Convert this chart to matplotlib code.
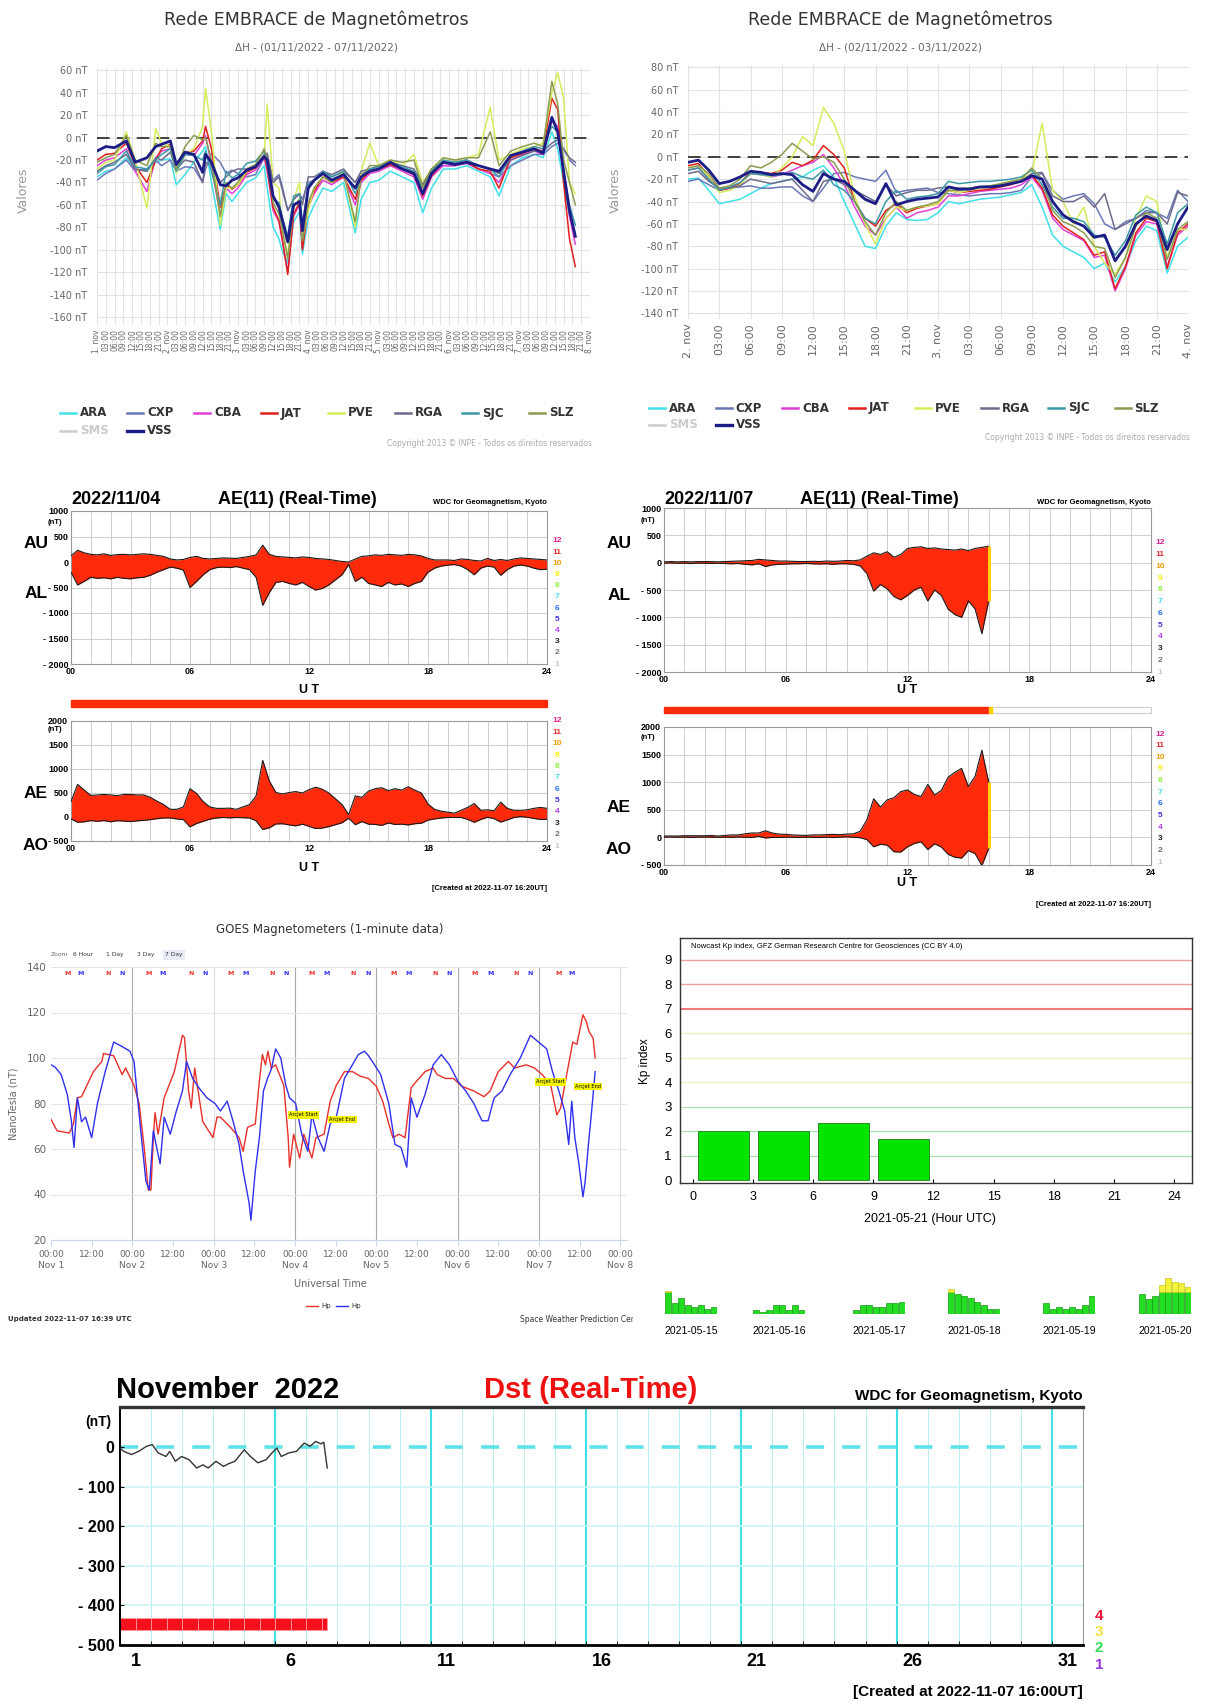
#!/usr/bin/env python3
"""Space weather collage: EMBRACE dH, Kyoto AE, GOES Hp, GFZ Kp and Kyoto Dst."""

import numpy as np
import matplotlib
matplotlib.use("Agg")
import matplotlib.pyplot as plt
from matplotlib.lines import Line2D
from matplotlib.patches import Rectangle

W, H = 1209, 1707
KYOTO = ["Liberation Sans Narrow", "Liberation Sans", "DejaVu Sans"]
ARIAL = ["Liberation Sans", "DejaVu Sans"]

# ---------------- EMBRACE magnetometer network (delta H, nT) ----------------
STATIONS = ["ARA", "CXP", "CBA", "JAT", "PVE", "RGA", "SJC", "SLZ", "SMS", "VSS"]
STATION_COLORS = ["#3fe0e8", "#6a78b8", "#e040d8", "#e0201c", "#d6ec5a",
                  "#6e6a8c", "#3c98a8", "#8a9c52", "#c8c8c8", "#1c1c86"]
HIDDEN = ["SMS"]

# 01/11 - 07/11, hours since 2022-11-01 00 UT
week_hours = [0, 3, 6, 10, 13, 17, 20, 22, 25, 27,
              30, 33, 36, 37, 39, 42, 44, 46, 48, 51,
              54, 57, 58, 60, 62, 63, 65, 67, 69, 70,
              72, 74, 77, 80, 84, 88, 90, 93, 96, 100,
              104, 108, 111, 114, 118, 122, 126, 130, 134, 137,
              141, 145, 149, 152, 155, 157, 159, 161, 163]
week_ara = [-35, -30, -28, -18, -28, -30, -22, -20, -19, -42,
            -33, -22, -12, -8, -40, -82, -50, -57, -50, -40,
            -36, -25, -45, -80, -90, -100, -112, -75, -66, -104,
            -72, -60, -45, -48, -40, -85, -55, -40, -38, -30,
            -35, -40, -67, -45, -28, -28, -25, -30, -35, -52,
            -25, -18, -15, -18, 5, -10, -40, -70, -85]
week_cxp = [-38, -32, -28, -20, -30, -28, -20, -25, -20, -30,
            -26, -27, -40, -28, -14, -22, -32, -29, -32, -35,
            -33, -18, -15, -38, -33, -42, -65, -55, -50, -55,
            -40, -38, -30, -35, -30, -40, -32, -30, -28, -25,
            -28, -30, -40, -30, -25, -25, -22, -28, -32, -35,
            -25, -20, -15, -15, -8, -5, -10, -20, -25]
week_cba = [-25, -20, -18, -10, -30, -48, -18, -12, -10, -30,
            -15, -16, -5, 2, -25, -70, -45, -50, -45, -33,
            -29, -18, -30, -65, -75, -90, -120, -70, -60, -98,
            -62, -50, -38, -42, -35, -60, -40, -32, -30, -25,
            -30, -35, -55, -35, -25, -25, -23, -28, -32, -40,
            -20, -15, -12, -15, 15, 10, -30, -70, -95]
week_jat = [-20, -15, -14, -5, -25, -40, -20, -10, -6, -30,
            -13, -12, -3, 10, -10, -62, -42, -46, -42, -31,
            -27, -16, -28, -62, -74, -88, -122, -68, -58, -100,
            -60, -48, -35, -40, -35, -55, -38, -30, -28, -24,
            -28, -33, -52, -34, -22, -24, -22, -28, -30, -45,
            -18, -14, -10, -12, 35, 25, -40, -90, -115]
week_pve = [-28, -22, -20, 5, -20, -63, 8, -5, -8, -32,
            -15, -10, 10, 44, 5, -78, -45, -45, -42, -30,
            -25, -15, 30, -40, -45, -80, -105, -55, -40, -90,
            -65, -45, -35, -40, -30, -80, -30, -5, -25, -20,
            -25, -15, -40, -28, -18, -20, -18, -15, 27, -20,
            -15, -10, -8, -5, 40, 58, 35, -40, -50]
week_rga = [-30, -25, -22, -15, -28, -30, -18, -20, -13, -28,
            -20, -22, -40, -22, -25, -40, -35, -30, -28, -28,
            -25, -15, -14, -40, -35, -45, -65, -55, -50, -60,
            -35, -35, -30, -33, -28, -40, -30, -28, -25, -22,
            -25, -28, -42, -28, -22, -22, -20, -25, -28, -32,
            -20, -16, -12, -12, -5, -2, -10, -18, -22]
week_sjc = [-32, -26, -24, -12, -26, -28, -20, -15, -10, -30,
            -15, -16, -20, -12, -30, -60, -30, -36, -33, -23,
            -21, -12, -25, -55, -58, -70, -88, -52, -50, -78,
            -42, -38, -30, -35, -30, -50, -35, -28, -26, -22,
            -26, -30, -45, -30, -20, -22, -20, -25, -28, -35,
            -16, -12, -8, -10, 10, 5, -30, -60, -78]
week_slz = [-22, -18, -15, 2, -20, -25, -5, -8, -8, -28,
            -8, 2, -2, 0, -20, -70, -40, -45, -40, -28,
            -24, -10, -20, -58, -68, -80, -108, -62, -55, -92,
            -58, -45, -35, -40, -32, -75, -35, -25, -25, -20,
            -22, -20, -45, -28, -18, -20, -18, -18, 5, -25,
            -12, -8, -5, -8, 50, 30, -20, -40, -60]
week_vss = [-12, -8, -9, -3, -22, -18, -8, -6, -3, -24,
            -13, -15, -31, -15, -22, -42, -43, -38, -36, -29,
            -26, -17, -20, -52, -62, -72, -93, -60, -57, -83,
            -45, -38, -32, -38, -33, -45, -35, -30, -28, -22,
            -28, -32, -50, -32, -22, -24, -22, -25, -28, -30,
            -16, -13, -10, -14, 18, 5, -30, -65, -88]

# 02/11 - 03/11, hourly
storm_ara = [-20, -19, -30, -42, -40, -38, -33, -28, -24, -22, -20, -18, -12, -8, -18, -40, -60,
             -80, -82, -62, -50, -56, -57, -56, -50, -40, -42, -40, -38, -37, -36, -34, -32,
             -25, -45, -70, -80, -85, -90, -100, -95, -112, -98, -75, -62, -66, -104, -80, -72]
storm_cxp = [-22, -20, -25, -30, -28, -27, -26, -28, -28, -27, -27, -35, -40, -28, -15, -14, -18,
             -20, -22, -12, -32, -30, -29, -28, -32, -33, -34, -35, -34, -33, -33, -32, -30,
             -18, -15, -30, -38, -35, -33, -42, -60, -65, -58, -55, -48, -50, -55, -30, -40]
storm_cba = [-12, -10, -20, -30, -28, -25, -15, -16, -18, -16, -12, -8, -5, 2, -10, -25, -45,
             -62, -70, -55, -45, -55, -50, -48, -45, -35, -35, -33, -31, -30, -29, -28, -25,
             -18, -30, -55, -65, -70, -75, -90, -88, -120, -100, -70, -58, -60, -98, -70, -62]
storm_jat = [-8, -6, -18, -30, -28, -24, -13, -14, -15, -12, -5, -8, -3, 10, 2, -10, -40,
             -55, -62, -48, -42, -50, -46, -44, -42, -30, -32, -31, -30, -29, -27, -25, -22,
             -16, -28, -52, -62, -68, -74, -88, -85, -118, -98, -68, -55, -58, -100, -68, -60]
storm_pve = [-10, -8, -18, -32, -30, -25, -15, -16, -18, -10, 0, 18, 10, 44, 30, 5, -35,
             -60, -78, -55, -45, -48, -45, -44, -42, -30, -32, -30, -28, -27, -25, -22, -20,
             -15, 30, -30, -40, -60, -45, -80, -95, -105, -90, -55, -35, -40, -90, -65, -65]
storm_rga = [-15, -13, -22, -28, -28, -26, -20, -22, -24, -22, -20, -30, -40, -22, -20, -25, -30,
             -35, -40, -25, -35, -32, -30, -30, -28, -27, -28, -28, -27, -26, -25, -24, -22,
             -15, -14, -35, -40, -40, -35, -45, -33, -65, -60, -55, -50, -50, -60, -32, -35]
storm_sjc = [-12, -10, -20, -30, -27, -23, -15, -16, -17, -16, -14, -18, -20, -12, -25, -30, -40,
             -55, -60, -40, -30, -38, -36, -35, -33, -22, -24, -23, -22, -22, -21, -20, -18,
             -12, -25, -45, -55, -55, -58, -70, -72, -88, -75, -52, -45, -50, -78, -50, -42]
storm_slz = [-10, -8, -15, -28, -26, -20, -8, -10, -5, 2, 12, 5, -2, 0, -5, -20, -40,
             -58, -70, -50, -40, -48, -45, -43, -40, -30, -30, -28, -27, -26, -24, -22, -20,
             -10, -20, -48, -58, -62, -68, -80, -82, -108, -90, -62, -50, -55, -92, -65, -58]
storm_vss = [-5, -3, -12, -24, -22, -18, -13, -14, -16, -15, -16, -25, -31, -15, -20, -22, -30,
             -38, -42, -24, -43, -40, -38, -37, -36, -27, -29, -29, -27, -27, -26, -24, -22,
             -17, -20, -40, -52, -58, -62, -72, -70, -93, -80, -60, -53, -57, -83, -60, -45]

# ---------------- Kyoto AE(11), 20-minute samples ----------------
au_1104 = [120, 230, 180, 150, 140, 160, 130, 145, 150, 140, 150, 160, 150, 130, 110,
           60, 40, 50, 90, 110, 70, 60, 70, 80, 75, 70, 90, 110, 140, 330,
           150, 110, 100, 90, 80, 100, 90, 70, 60, 50, 30, 10, 0, 60, 110,
           120, 140, 130, 150, 140, 130, 150, 140, 120, 70, 40, 40, 40, 30, 60,
           50, 30, 20, 70, 30, 50, 30, 60, 80, 70, 60, 50, 40]
al_1104 = [-200, -450, -380, -300, -320, -310, -330, -300, -320, -330, -310, -300, -260, -200, -150,
           -100, -120, -160, -500, -380, -250, -150, -110, -100, -110, -90, -120, -150, -300, -850,
           -600, -400, -380, -420, -450, -400, -480, -550, -520, -450, -350, -250, -50, -380, -300,
           -420, -450, -480, -400, -450, -430, -480, -420, -380, -200, -120, -80, -60, -50, -80,
           -150, -250, -120, -80, -100, -260, -150, -80, -60, -80, -120, -150, -140]
au_1107 = [15, 20, 15, 20, 15, 20, 20, 20, 15, 20, 25, 30, 35, 40, 60, 50, 40, 30,
           30, 25, 20, 20, 25, 20, 30, 25, 30, 40, 35, 50, 120, 180, 150, 200, 100, 150,
           260, 280, 290, 260, 270, 250, 240, 230, 250, 220, 260, 280, 300]
al_1107 = [-10, -5, -10, -10, -15, -10, -10, -15, -10, -15, -20, -15, -30, -40, -20, -70, -40, -30,
           -25, -20, -20, -15, -20, -25, -20, -30, -20, -20, -30, -60, -200, -520, -400, -480, -620, -680,
           -600, -500, -450, -700, -500, -600, -850, -950, -1000, -700, -850, -1300, -700]

# ---------------- GOES Hp (nT), hours since 2022-11-01 00 UT ----------------
goes_red_h = [0, 1.8, 5.4, 6.6, 7.8, 9, 12.5, 15, 15.5, 18.5, 21, 22, 24.5, 26, 27.5, 28.7, 29.5,
              30.2, 30.7, 31.6, 33.4, 36.4, 38.8, 39.4, 40.6, 41.4, 42.4, 44.8, 47.8, 49, 50, 53,
              55.5, 56.7, 58, 60.3, 61.5, 62.4, 63.3, 64, 65, 66.3, 68.7, 70, 70.4, 71.6, 73.4,
              74.6, 77, 78.2, 80.6, 82.4, 84.2, 86.6, 89, 91.3, 93.7, 96, 97.9, 99.7, 100.9, 102.7,
              104.5, 106.3, 108, 110.4, 112.8, 114, 116.4, 118.8, 121.2, 124.8, 127.8, 129.6, 132,
              135, 136.8, 140.3, 142.7, 145, 147.5, 149.3, 150.4, 152.2, 154, 155.2, 157, 158,
              158.8, 160, 160.6]
goes_red_v = [73, 68, 67, 71, 82.5, 83, 94, 98.5, 102, 101, 92.7, 95.6, 88, 80, 60.7, 42, 42,
              65, 76, 66.5, 82.5, 94, 110, 109, 85.5, 78, 95.6, 72, 65, 74, 74, 69.5,
              65, 59, 69.5, 71, 90, 101.5, 97, 103, 95.6, 97, 88, 65, 52, 66.5, 56,
              66.5, 56, 65, 66.5, 81, 88, 94, 94, 92, 91, 87.6, 81, 71, 65, 66.5,
              65, 87, 90, 94, 95.6, 92.7, 91, 91, 87.6, 85.5, 83, 85.5, 94,
              98.5, 95.6, 97, 95.6, 92.7, 88, 75, 78, 92.7, 107, 106, 119, 116,
              111.6, 108.7, 100]
goes_blue_h = [0, 1.2, 3, 4.8, 6, 6.8, 7.8, 9, 10.2, 12, 13.7, 16, 18.5, 21, 23.3, 24.5, 25.7,
               26.9, 28, 29, 30.2, 31, 32.2, 33.4, 35.2, 37, 38.8, 40, 41.8, 43.6, 46, 48.4, 50,
               52, 53.7, 55.5, 56.7, 58.5, 59, 60.3, 61.5, 62.7, 63.9, 65, 66.3, 67.8, 69.3, 70.4,
               72.2, 74, 75.8, 77, 78.8, 80.6, 82.4, 84.2, 86.6, 88.4, 90.7, 92.5, 93.7, 95.5,
               97.3, 99.7, 101.5, 103.3, 105, 106.3, 108, 110.4, 112.8, 115.2, 117.6, 120, 122.4,
               124.8, 127.2, 129, 130.8, 133.1, 135.5, 138.5, 141.5, 143.9, 146.3, 148, 149.9,
               151.6, 152.8, 153.7, 154.6, 155.8, 157, 157.6, 158.8, 159.4, 160.6]
goes_blue_v = [97, 96, 92.7, 84, 72.4, 60.7, 82.5, 72, 74, 65, 80, 94, 107, 105, 103, 98.5, 80,
               62, 46, 42, 68, 62, 53.5, 74, 66.5, 76.7, 85.5, 98.5, 91, 87, 82.5, 80, 76.7,
               81, 72.4, 62, 50.5, 36, 28.7, 50.5, 65, 85.5, 91, 95, 104, 100, 88, 82.5,
               80, 66.5, 59, 75, 65, 59, 71, 74, 91, 95.6, 101.5, 103, 101, 97,
               92.7, 80, 62, 60.7, 52, 82.5, 74, 84, 97, 101.5, 97, 90, 85.5,
               80, 72.4, 72.4, 82.5, 85.5, 92.7, 100, 110, 107, 104, 94, 85.5,
               76.7, 62, 81, 65, 53.5, 39, 45, 65, 74, 94]
goes_m_red = [4.8, 28.7, 53.1, 77.0, 101.1, 125.0, 149.9]
goes_m_blue = [8.7, 32.8, 57.3, 81.2, 105.4, 129.6, 153.7]
goes_n_red = [16.7, 41.2, 65.3, 89.2, 113.4, 137.3]
goes_n_blue = [20.9, 45.4, 69.3, 93.5, 117.6, 141.5]
arcjet_h = [74.6, 86.0, 147.5, 158.4]
arcjet_v = [75, 73, 89.5, 87.5]
arcjet_txt = ["Arcjet Start", "Arcjet End", "Arcjet Start", "Arcjet End"]

# ---------------- GFZ nowcast Kp ----------------
kp_start = [0, 3, 6, 9]
kp_values = [2.0, 2.0, 2.33, 1.67]
mini_dates = ["2021-05-15", "2021-05-16", "2021-05-17", "2021-05-18", "2021-05-19", "2021-05-20"]
kp_0515 = [4.3, 2.1, 3.0, 1.7, 1.3, 1.7, 1.0, 1.3]
kp_0516 = [0.7, 0.3, 0.7, 1.7, 1.7, 0.7, 1.7, 0.7]
kp_0517 = [0.7, 1.7, 1.7, 1.3, 1.3, 2.0, 2.0, 2.3]
kp_0518 = [4.7, 3.7, 3.3, 3.0, 2.3, 1.7, 1.0, 1.0]
kp_0519 = [2.0, 1.0, 1.3, 1.0, 1.3, 1.0, 1.7, 3.3]
kp_0520 = [3.7, 2.7, 3.3, 5.3, 6.7, 6.0, 5.7, 5.0]

# ---------------- Kyoto Dst, days since 2022-11-01 00 UT ----------------
dst_days = [0.0, 0.12, 0.37, 0.6, 0.86, 1.04, 1.23, 1.48, 1.6, 1.78, 1.98, 2.22, 2.47, 2.67,
            2.84, 3.09, 3.33, 3.5, 3.7, 4.0, 4.2, 4.44, 4.7, 4.94, 5.05, 5.19, 5.43, 5.68,
            5.93, 6.12, 6.3, 6.47, 6.56, 6.67]
dst_values = [-3, -11, -19, -11, 2, 6, -15, -24, -11, -36, -24, -32, -53, -45,
              -53, -36, -49, -42, -36, -7, -24, -40, -32, -11, -3, -24, -15, -11,
              10, 2, 14, 8, 12, -53]

fig = plt.figure(figsize=(W / 100, H / 100), dpi=100)
fig.patch.set_facecolor("white")


def axes_px(x0, y0, x1, y1):
    return fig.add_axes([x0 / W, 1 - y1 / H, (x1 - x0) / W, (y1 - y0) / H])


def text_px(x, y, s, **kw):
    kw.setdefault("ha", "center")
    kw.setdefault("va", "center")
    return fig.text(x / W, 1 - y / H, s, **kw)


def rect_px(x0, y0, x1, y1, **kw):
    fig.add_artist(Rectangle((x0 / W, 1 - y1 / H), (x1 - x0) / W, (y1 - y0) / H,
                             transform=fig.transFigure, **kw))


# ======================= EMBRACE =======================
def embrace_panel(ax, hours, series, ylo, yhi, ytop, days, first_day, xfs):
    for name, color in zip(STATIONS, STATION_COLORS):
        if name in HIDDEN:
            continue
        ax.plot(hours, series[name], color=color, lw=2.0 if name == "VSS" else 1.1,
                solid_joinstyle="round", zorder=3)
    ax.axhline(0, color="#333333", lw=1.3, dashes=(7, 4), zorder=2)
    ax.set_ylim(ylo, yhi)
    yt = np.arange(ytop - 220, ytop + 1, 20)
    ax.set_yticks(yt)
    ax.set_yticklabels([f"{v} nT" for v in yt])
    xt = np.arange(0, days * 24 + 1, 3)
    ax.set_xticks(xt)
    ax.set_xticklabels([f"{first_day + h // 24}. nov" if h % 24 == 0 else f"{h % 24:02d}:00"
                        for h in xt], rotation=90, fontsize=xfs, color="#666666")
    ax.set_xlim(0, days * 24)
    ax.grid(True, color="#e3e3e3", lw=0.8)
    ax.set_axisbelow(True)
    for s in ax.spines.values():
        s.set_visible(False)
    ax.tick_params(axis="y", length=0, labelsize=7, labelcolor="#666666", pad=7)
    ax.tick_params(axis="x", length=0, pad=3)


def embrace_legend(x0, y0, dx, dy):
    for i, (name, color) in enumerate(zip(STATIONS, STATION_COLORS)):
        row, col = divmod(i, 8)
        x, y = x0 + col * dx, y0 + row * dy
        hidden = name in HIDDEN
        fig.add_artist(Line2D([x / W, (x + 16) / W], [1 - y / H] * 2, transform=fig.transFigure,
                              color="#cccccc" if hidden else color,
                              lw=2.4 if name == "VSS" else 1.8))
        text_px(x + 20, y, name, ha="left", fontsize=8.5, fontweight="bold",
                color="#cccccc" if hidden else "#333333")


week = dict(zip(STATIONS, [week_ara, week_cxp, week_cba, week_jat, week_pve,
                           week_rga, week_sjc, week_slz, None, week_vss]))
storm = dict(zip(STATIONS, [storm_ara, storm_cxp, storm_cba, storm_jat, storm_pve,
                            storm_rga, storm_sjc, storm_slz, None, storm_vss]))

ax1 = axes_px(97, 68, 590, 325)
embrace_panel(ax1, week_hours, week, -167, 62, 60, 7, 1, 5.5)
text_px(316, 20, "Rede EMBRACE de Magnetômetros", fontsize=12.5, color="#333333")
text_px(316, 47, "ΔH - (01/11/2022 - 07/11/2022)", fontsize=7.5, color="#666666")
text_px(23, 190, "Valores", rotation=90, fontsize=9, color="#999999")
embrace_legend(60, 413, 67, 18)
text_px(592, 444, "Copyright 2013 © INPE - Todos os direitos reservados", ha="right",
        fontsize=5.5, color="#aaaaaa")

ax2 = axes_px(688, 65, 1188, 319)
embrace_panel(ax2, np.arange(len(storm_vss)), storm, -145, 82, 80, 2, 2, 8)
text_px(900, 20, "Rede EMBRACE de Magnetômetros", fontsize=12.5, color="#333333")
text_px(900, 47, "ΔH - (02/11/2022 - 03/11/2022)", fontsize=7.5, color="#666666")
text_px(615, 190, "Valores", rotation=90, fontsize=9, color="#999999")
embrace_legend(649, 408, 66.5, 17)
text_px(1190, 438, "Copyright 2013 © INPE - Todos os direitos reservados", ha="right",
        fontsize=5.5, color="#aaaaaa")

# ======================= Kyoto AE =======================
AE_RED = "#ff2a0a"
SCALE_COLORS = ["#e0208c", "#e83030", "#f0a000", "#f2f200", "#90f040", "#40d8f0",
                "#2070f0", "#3a30e0", "#b040f0", "#202020", "#707070", "#c8c8c8"]


def ae_frame(ax, ylo, yhi):
    ax.set_xlim(0, 24)
    ax.set_ylim(ylo, yhi)
    ax.set_xticks([0, 6, 12, 18, 24])
    ax.set_xticklabels(["00", "06", "12", "18", "24"])
    ax.set_xticks(np.arange(0, 25), minor=True)
    yt = np.arange(ylo, yhi + 1, 500)
    ax.set_yticks(yt)
    ax.set_yticklabels([f"- {-v}" if v < 0 else f"{v}" for v in yt])
    ax.grid(True, which="both", color="#c8c8c8", lw=0.6)
    ax.set_axisbelow(True)
    for s in ax.spines.values():
        s.set_color("#999999")
        s.set_linewidth(0.8)
    ax.tick_params(which="both", length=0, labelsize=6.5, pad=2)
    for lab in ax.get_xticklabels() + ax.get_yticklabels():
        lab.set_family(ARIAL)
        lab.set_fontweight("bold")
    ax.text(-0.45, yhi - (yhi - ylo) * 0.075, "(nT)", ha="right", va="center",
            fontsize=5.5, fontweight="bold", family=ARIAL)


def ae_fill(ax_top, ax_bot, au, al):
    au, al = np.array(au, float), np.array(al, float)
    t = np.arange(len(au)) / 3
    ae, ao = au - al, (au + al) / 2
    ax_top.fill_between(t, al, au, color=AE_RED, lw=0, zorder=2)
    ax_bot.fill_between(t, ao, ae, color=AE_RED, lw=0, zorder=2)
    for ax, a, b in ((ax_top, au, al), (ax_bot, ae, ao)):
        ax.plot(t, a, color="#1a1a1a", lw=0.8, zorder=3)
        ax.plot(t, b, color="#1a1a1a", lw=0.8, zorder=3)
    return t, au, al, ae, ao


def scale_numbers(x, y0, y1):
    ys = np.linspace(y0, y1, 12)
    for lab, col, y in zip(range(12, 0, -1), SCALE_COLORS, ys):
        text_px(x, y, str(lab), fontsize=6, fontweight="bold", color=col, family=ARIAL)


def ae_titles(x0, x1, y, date, mid):
    text_px(x0, y, date, ha="left", fontsize=13, fontweight="bold", family=KYOTO)
    text_px(mid, y, "AE(11) (Real-Time)", ha="left", fontsize=13, fontweight="bold", family=KYOTO)
    text_px(x1, y + 2, "WDC for Geomagnetism, Kyoto", ha="right", fontsize=5.5,
            fontweight="bold", family=KYOTO)


# 2022/11/04
ax3a = axes_px(71, 511, 547, 664)
ax3b = axes_px(71, 721, 547, 841)
ae_frame(ax3a, -2000, 1000)
ae_frame(ax3b, -500, 2000)
ae_fill(ax3a, ax3b, au_1104, al_1104)
ae_titles(71, 547, 500, "2022/11/04", 218)
for lab, y in (("AU", 544), ("AL", 593), ("AE", 794), ("AO", 846)):
    text_px(36, y, lab, fontsize=12.5, fontweight="bold", family=KYOTO)
text_px(309, 690, "U T", fontsize=9, fontweight="bold", family=ARIAL)
text_px(309, 868, "U T", fontsize=9, fontweight="bold", family=ARIAL)
rect_px(71, 700, 547, 707, color=AE_RED)
scale_numbers(557, 541, 664)
scale_numbers(557, 721, 846)
text_px(547, 888, "[Created at 2022-11-07 16:20UT]", ha="right", fontsize=5.5,
        fontweight="bold", family=KYOTO)

# 2022/11/07
ax4a = axes_px(664, 508, 1151, 672)
ax4b = axes_px(664, 727, 1151, 865)
ae_frame(ax4a, -2000, 1000)
ae_frame(ax4b, -500, 2000)
t7, au7, al7, ae7, ao7 = ae_fill(ax4a, ax4b, au_1107, al_1107)
ax4a.vlines(t7[-1], al7[-1], au7[-1], color="#ffd000", lw=2.2, zorder=4)
ax4b.vlines(t7[-1], ao7[-1], ae7[-1], color="#ffd000", lw=2.2, zorder=4)
ae_titles(664, 1151, 500, "2022/11/07", 800)
for lab, y in (("AU", 544), ("AL", 596), ("AE", 808), ("AO", 849)):
    text_px(619, y, lab, fontsize=12.5, fontweight="bold", family=KYOTO)
text_px(907, 690, "U T", fontsize=9, fontweight="bold", family=ARIAL)
text_px(907, 883, "U T", fontsize=9, fontweight="bold", family=ARIAL)
x_end = 664 + (1151 - 664) * t7[-1] / 24
rect_px(664, 707, 1151, 713, facecolor="white", edgecolor="#cccccc", lw=0.8)
rect_px(664, 707, x_end, 713, color=AE_RED)
rect_px(x_end, 707, x_end + 3, 713, color="#ffd000")
scale_numbers(1160, 543, 672)
scale_numbers(1160, 734, 862)
text_px(1151, 905, "[Created at 2022-11-07 16:20UT]", ha="right", fontsize=5.5,
        fontweight="bold", family=KYOTO)

# ======================= GOES =======================
ax5 = axes_px(51, 967, 627, 1240)
ax5.plot(goes_red_h, goes_red_v, color="#e8302a", lw=1.0, zorder=3)
ax5.plot(goes_blue_h, goes_blue_v, color="#2f2ff0", lw=1.0, zorder=3)
ax5.set_xlim(0, 170)
ax5.set_ylim(20, 140)
ax5.set_yticks(np.arange(20, 141, 20))
gx = np.arange(0, 169, 12)
ax5.set_xticks(gx)
ax5.set_xticklabels([f"00:00\nNov {h // 24 + 1}" if h % 24 == 0 else "12:00" for h in gx])
ax5.grid(True, axis="y", color="#e6e6e6", lw=0.8)
for d in range(1, 8):
    ax5.axvline(d * 24, color="#dddddd" if d in (2, 7) else "#a8a8a8", lw=0.8, zorder=1)
for s in ("top", "right", "left"):
    ax5.spines[s].set_visible(False)
ax5.spines["bottom"].set_color("#ccd6eb")
ax5.tick_params(axis="x", length=4, color="#ccd6eb", labelsize=6.5, labelcolor="#666666")
ax5.tick_params(axis="y", length=0, labelsize=7.5, labelcolor="#666666")
for hs, col, lab in ((goes_m_red, "#e8302a", "M"), (goes_m_blue, "#2f2ff0", "M"),
                     (goes_n_red, "#e8302a", "N"), (goes_n_blue, "#2f2ff0", "N")):
    for h in hs:
        ax5.text(h, 137, lab, color=col, fontsize=4.5, fontweight="bold", ha="center", va="center")
for h, v, s in zip(arcjet_h, arcjet_v, arcjet_txt):
    ax5.text(h, v, s, fontsize=3.6, ha="center", va="center", zorder=5,
             bbox=dict(boxstyle="square,pad=0.25", fc="#f4f400", ec="none"))
text_px(330, 930, "GOES Magnetometers (1-minute data)", fontsize=8.5, color="#333333")
for x, s in ((51, "Zoom"), (73, "6 Hour"), (106, "1 Day"), (137, "3 Day")):
    text_px(x, 955, s, ha="left", fontsize=4.3, color="#666666" if s == "Zoom" else "#333333")
text_px(165, 955, "7 Day", ha="left", fontsize=4.3, color="#333333",
        bbox=dict(boxstyle="square,pad=0.35", fc="#e6ebf5", ec="none"))
text_px(13, 1104, "NanoTesla (nT)", rotation=90, fontsize=7, color="#666666")
text_px(330, 1284, "Universal Time", fontsize=7, color="#666666")
fig.add_artist(Line2D([306 / W, 318 / W], [1 - 1306 / H] * 2, transform=fig.transFigure,
                      color="#e8302a", lw=1))
text_px(321, 1306, "Hp", ha="left", fontsize=5, color="#333333")
fig.add_artist(Line2D([336 / W, 348 / W], [1 - 1306 / H] * 2, transform=fig.transFigure,
                      color="#2f2ff0", lw=1))
text_px(351, 1306, "Hp", ha="left", fontsize=5, color="#333333")
text_px(8, 1319, "Updated 2022-11-07 16:39 UTC", ha="left", fontsize=5, fontweight="bold",
        color="#333333")
text_px(520, 1319, "Space Weather Prediction Center", ha="left", fontsize=5.5, color="#333333")
rect_px(633, 1244, 660, 1330, color="white", zorder=10)

# ======================= Kp =======================
ax6 = axes_px(680, 938, 1192, 1183)
ax6.set_xlim(-0.65, 24.9)
ax6.set_ylim(-0.12, 9.88)
for lvl in range(1, 10):
    if lvl <= 3:
        col, lw = "#a8e4a8", 0.9
    elif lvl <= 6:
        col, lw = "#efefbd", 0.9
    else:
        col, lw = ("#f07878", 1.5) if lvl == 7 else ("#eea0a0", 1.0)
    ax6.axhline(lvl, color=col, lw=lw, zorder=1)
ax6.bar(np.array(kp_start) + 1.5, kp_values, width=2.55, color="#00e400",
        edgecolor="#2a8a2a", lw=0.7, zorder=3)
ax6.set_xticks(np.arange(0, 25, 3))
ax6.set_yticks(np.arange(0, 10))
for s in ax6.spines.values():
    s.set_linewidth(1.0)
    s.set_color("#333333")
ax6.tick_params(axis="x", direction="in", length=3, labelsize=9, pad=6)
ax6.tick_params(axis="y", length=0, labelsize=9.5, pad=6)
for lab in ax6.get_xticklabels() + ax6.get_yticklabels():
    lab.set_family(ARIAL)
ax6.text(0.022, 0.965, "Nowcast Kp index, GFZ German Research Centre for Geosciences (CC BY 4.0)",
         transform=ax6.transAxes, fontsize=5.5, va="center", family=ARIAL)
text_px(930, 1219, "2021-05-21 (Hour UTC)", fontsize=9, family=ARIAL)
text_px(645, 1061, "Kp index", rotation=90, fontsize=8.5, family=ARIAL)

mini_kp = [kp_0515, kp_0516, kp_0517, kp_0518, kp_0519, kp_0520]
for cx, date, vals in zip([691, 779, 879, 974, 1069, 1165], mini_dates, mini_kp):
    axm = axes_px(cx - 26, 1274, cx + 26, 1314)
    vals = np.array(vals)
    pos = np.arange(len(vals))
    axm.bar(pos, np.minimum(vals, 4), width=0.85, color="#22dd22", edgecolor="#169a16", lw=0.5)
    high = vals > 4
    if high.any():
        axm.bar(pos[high], vals[high] - 4, bottom=4, width=0.85, color="#f2f23c",
                edgecolor="#c8c820", lw=0.5)
    axm.set_xlim(-0.5, len(vals) - 0.5)
    axm.set_ylim(0, 7.4)
    axm.axis("off")
    text_px(cx, 1331, date, fontsize=7.5, family=ARIAL)

# ======================= Dst =======================
ax7 = axes_px(120, 1407, 1083, 1645)
ax7.set_xlim(0, 31)
ax7.set_ylim(-500, 101)
for d in range(1, 31):
    major = d % 5 == 0
    ax7.axvline(d, color="#40dfe6" if major else "#b8f0f2", lw=1.5 if major else 0.7, zorder=1)
for v in (-100, -200, -300, -400):
    ax7.axhline(v, color="#cdf5f6", lw=1.2, zorder=1)
ax7.axhline(0, color="#5fe3ea", lw=2.6, dashes=(5, 5), zorder=1)
ax7.plot(dst_days, dst_values, color="#333333", lw=1.0, zorder=3)
for d0 in np.arange(0, dst_days[-1], 0.5):
    ax7.add_patch(Rectangle((d0, -463), min(0.5, dst_days[-1] - d0), 32,
                            facecolor="#f5101c", edgecolor="#ff9aa0", lw=0.6, zorder=2))
ax7.set_yticks(np.arange(-500, 1, 100))
ax7.set_yticklabels([f"- {-v}" if v < 0 else "0" for v in np.arange(-500, 1, 100)])
ax7.set_xticks(np.arange(0.5, 31, 5))
ax7.set_xticklabels([str(d) for d in range(1, 32, 5)])
ax7.set_xticks(np.arange(0, 32), minor=True)
ax7.tick_params(axis="x", which="major", length=0, labelsize=13, pad=6)
ax7.tick_params(axis="x", which="minor", length=3, direction="in")
ax7.tick_params(axis="y", length=3, direction="in", labelsize=11.5, pad=4)
for lab in ax7.get_xticklabels() + ax7.get_yticklabels():
    lab.set_family(KYOTO)
    lab.set_fontweight("bold")
ax7.spines["top"].set_linewidth(2.4)
ax7.spines["top"].set_color("#333333")
ax7.spines["bottom"].set_linewidth(2.0)
ax7.spines["left"].set_linewidth(1.4)
ax7.spines["right"].set_color("#999999")
text_px(116, 1390, "November  2022", ha="left", fontsize=21, fontweight="bold", family=KYOTO)
text_px(484, 1390, "Dst (Real-Time)", ha="left", fontsize=21, fontweight="bold",
        color="#ee1111", family=KYOTO)
text_px(1083, 1396, "WDC for Geomagnetism, Kyoto", ha="right", fontsize=11,
        fontweight="bold", family=KYOTO)
text_px(98, 1422, "(nT)", fontsize=10, fontweight="bold", family=KYOTO)
for lab, col, y in (("4", "#ee1133", 1616), ("3", "#f2e23a", 1632),
                    ("2", "#33dd55", 1648), ("1", "#9933dd", 1665)):
    text_px(1099, y, lab, fontsize=11, fontweight="bold", color=col, family=KYOTO)
text_px(1083, 1692, "[Created at 2022-11-07 16:00UT]", ha="right", fontsize=11,
        fontweight="bold", family=KYOTO)

fig.savefig("out.png", dpi=100, facecolor="white")
